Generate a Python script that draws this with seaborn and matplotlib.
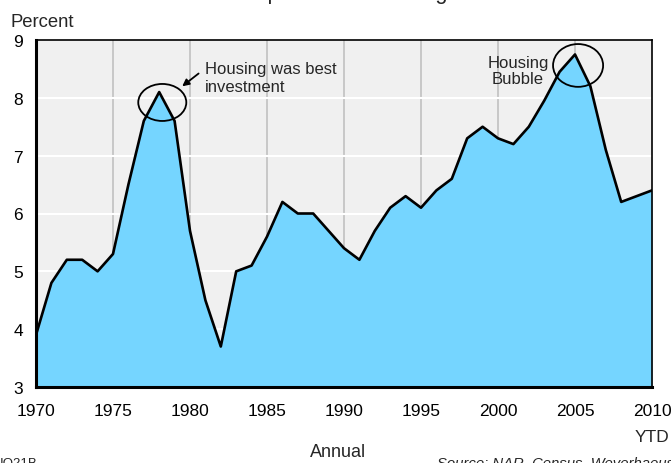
import matplotlib
matplotlib.use("Agg")
import matplotlib.pyplot as plt
from matplotlib.patches import Ellipse
from matplotlib.ticker import MultipleLocator
import seaborn as sns
import pandas as pd

years = list(range(1970, 2011))
percent = [3.9, 4.8, 5.2, 5.2, 5.0, 5.3, 6.5, 7.6, 8.1, 7.6,
           5.7, 4.5, 3.7, 5.0, 5.1, 5.6, 6.2, 6.0, 6.0, 5.7,
           5.4, 5.2, 5.7, 6.1, 6.3, 6.1, 6.4, 6.6, 7.3, 7.5,
           7.3, 7.2, 7.5, 7.95, 8.45, 8.75, 8.2, 7.1, 6.2, 6.3,
           6.4]
x_ticks = [1970, 1975, 1980, 1985, 1990, 1995, 2000, 2005, 2010]
x_tick_labels = ["1970", "1975", "1980", "1985", "1990", "1995", "2000", "2005", "2010"]
y_ticks = [3, 4, 5, 6, 7, 8, 9]

df = pd.DataFrame({"year": years, "percent": percent})

sns.set_style("white")
plt.rcParams["font.family"] = ["Liberation Sans", "DejaVu Sans"]

fig = plt.figure(figsize=(6.71, 4.64), dpi=100)
ax = fig.add_axes([36/671, 1-388/464, (652-36)/671, (388-41)/464])
ax.set_facecolor("#f0f0f0")

# grid
for xv in x_ticks[1:-1]:
    ax.axvline(xv, color="#c4c4c4", lw=1.3, zorder=0.5)
for yv in y_ticks[1:-1]:
    ax.axhline(yv, color="white", lw=1.5, zorder=0.5)

ax.fill_between(df["year"], df["percent"], 3, color="#75d5ff", zorder=1, lw=0)
sns.lineplot(data=df, x="year", y="percent", ax=ax, color="black", lw=1.9, zorder=2)

ax.set_xlim(1970, 2010)
ax.set_ylim(3, 9)
ax.set_xticks(x_ticks)
ax.set_xticklabels(x_tick_labels)
ax.xaxis.set_minor_locator(MultipleLocator(1))
ax.set_yticks(y_ticks)
ax.set_xlabel("")
ax.set_ylabel("")

ax.tick_params(axis="both", which="major", direction="out", length=4.5, width=1.2,
               color="black", labelsize=12.5, labelcolor="black")
ax.tick_params(axis="x", which="major", pad=7)
ax.tick_params(axis="y", which="major", pad=5)
ax.tick_params(axis="x", which="minor", direction="out", length=3.5, width=1.2, color="black")

for side in ["left", "bottom"]:
    ax.spines[side].set_linewidth(2.2)
    ax.spines[side].set_color("black")
for side in ["top", "right"]:
    ax.spines[side].set_linewidth(1.2)
    ax.spines[side].set_color("black")
    ax.spines[side].set_visible(True)

# annotations
ax.add_patch(Ellipse((1978.2, 7.92), 3.12, 0.64, fill=False, ec="black", lw=1.3, zorder=3))
ax.add_patch(Ellipse((2005.2, 8.56), 3.25, 0.74, fill=False, ec="black", lw=1.3, zorder=3))
ax.annotate("", xy=(1979.35, 8.17), xytext=(1980.7, 8.45),
            arrowprops=dict(arrowstyle="-|>", color="black", lw=1.3, mutation_scale=10))
ax.text(1980.97, 8.118, "Housing was best\ninvestment", fontsize=12, va="baseline", ha="left",
        linespacing=1.25)
ax.text(2001.3, 8.256, "Housing\nBubble", fontsize=12, va="baseline", ha="center",
        linespacing=1.08)

# figure texts
fig.text(10/671, 1-27/464, "Percent", fontsize=13.3, va="baseline", ha="left")
fig.text(652/671, 1-442/464, "YTD", fontsize=12.5, va="baseline", ha="center")
fig.text(338/671, 1-457/464, "Annual", fontsize=13, va="baseline", ha="center")
fig.text(0/671, -3/464, "IO21B", fontsize=9.5, va="baseline", ha="left")
fig.text(437/671, -4/464, "Source: NAR, Census, Weyerhaeuser", fontsize=10.7, style="italic",
         va="baseline", ha="left")
fig.text(177/671, 1.0 + 0.5/464, "Sales as percent of housing", fontsize=15.8, va="baseline", ha="left")

fig.savefig("out.png", dpi=100)
